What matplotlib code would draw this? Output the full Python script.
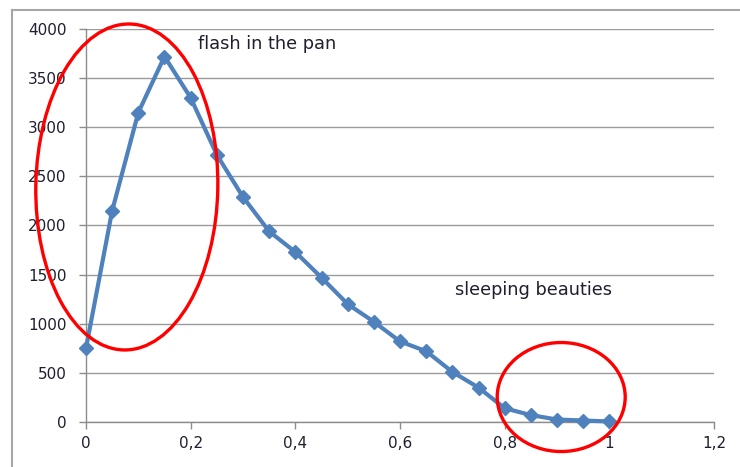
import matplotlib.pyplot as plt
import numpy as np
from matplotlib.patches import Ellipse
from matplotlib.transforms import ScaledTranslation
from matplotlib.lines import Line2D

share = [0, 0.05, 0.1, 0.15, 0.2, 0.25, 0.3, 0.35, 0.4, 0.45, 0.5,
         0.55, 0.6, 0.65, 0.7, 0.75, 0.8, 0.85, 0.9, 0.95, 1.0]
counts = [750, 2150, 3150, 3720, 3300, 2720, 2290, 1940, 1730, 1470, 1200,
          1020, 820, 720, 510, 350, 140, 70, 25, 15, 5]

x_ticks = [0, 0.2, 0.4, 0.6, 0.8, 1.0, 1.2]
x_labels = ['0', '0,2', '0,4', '0,6', '0,8', '1', '1,2']
y_ticks = [0, 500, 1000, 1500, 2000, 2500, 3000, 3500, 4000]

plt.rcParams['font.family'] = ['DejaVu Sans']

fig = plt.figure(figsize=(7.4, 4.67), dpi=100)
ax = fig.add_axes([0.1162, 0.0964, 0.8487, 0.8415])

ax.plot(share, counts, color='#4F81BD', lw=3, marker='D', ms=7,
        mec='#4F81BD', mfc='#4F81BD', clip_on=False, zorder=3)

ax.set_xlim(0, 1.2)
ax.set_ylim(0, 4000)
ax.set_xticks(x_ticks)
ax.set_xticklabels(x_labels)
ax.set_yticks(y_ticks)
ax.yaxis.grid(True, color='#9a9a9a', lw=1)
ax.set_axisbelow(True)
for s in ['top', 'right']:
    ax.spines[s].set_visible(False)
for s in ['left', 'bottom']:
    ax.spines[s].set_color('#8c8c8c')
    ax.spines[s].set_linewidth(1)
ax.tick_params(axis='both', colors='#8c8c8c', length=5, width=1,
               labelcolor='#1f1f2f', labelsize=11)
ax.tick_params(axis='x', pad=5)
ax.tick_params(axis='y', pad=9)

# red ellipses, sized in pixels, centred in data coordinates
for cx, cy, w, h, ang in [(0.078, 2392, 182, 326, -1),
                          (0.908, 254, 128, 109, 0)]:
    e = Ellipse((0, 0), w, h, angle=ang, fill=False, ec='#ff0000', lw=2.4,
                transform=ScaledTranslation(cx, cy, ax.transData),
                clip_on=False, zorder=4)
    ax.add_patch(e)

ax.text(0.214, 3847, 'flash in the pan', fontsize=12.8, va='center',
        color='#1f1f2f')
ax.text(0.705, 1343, 'sleeping beauties', fontsize=12.8, va='center',
        color='#1f1f2f')

# outer chart frame
fig.add_artist(Line2D([0.0162, 0.0162], [0, 0.9786], color='#a6a6a6', lw=1.5))
fig.add_artist(Line2D([0.0162, 1], [0.9786, 0.9786], color='#a6a6a6', lw=1.5))

plt.savefig('out.png', dpi=100)
